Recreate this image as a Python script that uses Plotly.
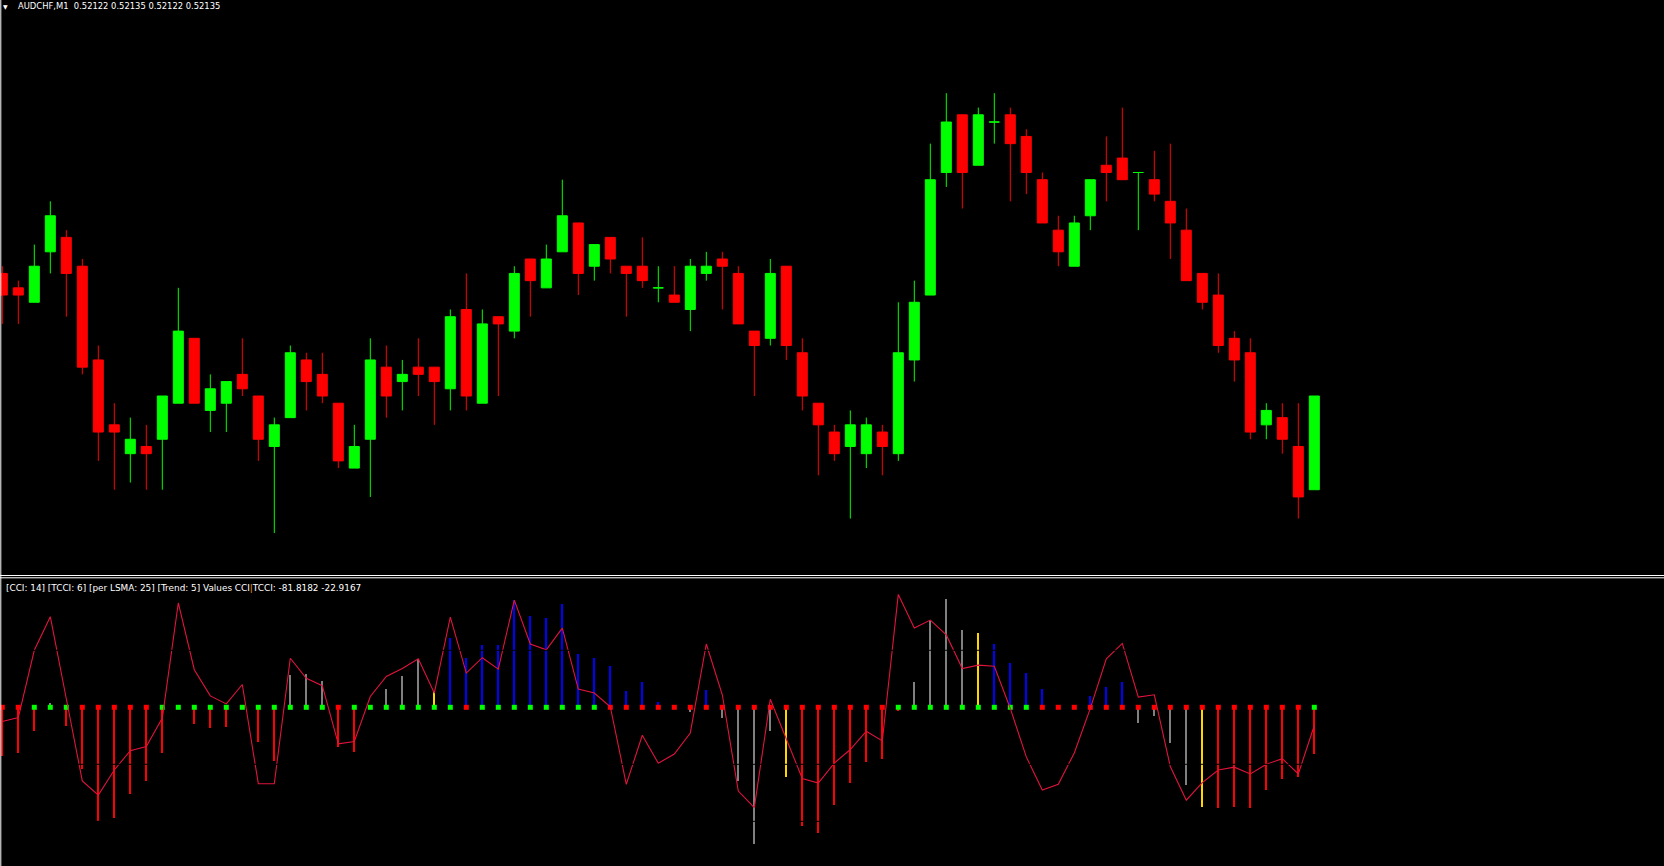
import plotly.graph_objects as go

# ---------------- data: AUDCHF M1 candles ----------------
open_ = [0.52152, 0.52150, 0.52148, 0.52155, 0.52157, 0.52153, 0.52140, 0.52131, 0.52127, 0.52128,
         0.52129, 0.52134, 0.52143, 0.52133, 0.52134, 0.52138, 0.52135, 0.52128, 0.52132, 0.52140,
         0.52138, 0.52134, 0.52125, 0.52129, 0.52139, 0.52137, 0.52139, 0.52139, 0.52136, 0.52147,
         0.52134, 0.52146, 0.52144, 0.52154, 0.52150, 0.52155, 0.52159, 0.52153, 0.52157, 0.52153,
         0.52153, 0.52150, 0.52149, 0.52147, 0.52152, 0.52154, 0.52152, 0.52144, 0.52143, 0.52153,
         0.52141, 0.52134, 0.52130, 0.52128, 0.52127, 0.52130, 0.52127, 0.52140, 0.52149, 0.52166,
         0.52174, 0.52167, 0.52173, 0.52174, 0.52171, 0.52165, 0.52158, 0.52153, 0.52160, 0.52167,
         0.52168, 0.52166, 0.52165, 0.52162, 0.52158, 0.52152, 0.52149, 0.52143, 0.52141, 0.52131,
         0.52132, 0.52128, 0.52122]
high = [0.52153, 0.52151, 0.52156, 0.52162, 0.52158, 0.52154, 0.52142, 0.52134, 0.52132, 0.52131,
        0.52135, 0.52150, 0.52143, 0.52138, 0.52137, 0.52143, 0.52135, 0.52132, 0.52142, 0.52141,
        0.52141, 0.52134, 0.52131, 0.52143, 0.52142, 0.52140, 0.52143, 0.52139, 0.52147, 0.52152,
        0.52147, 0.52146, 0.52153, 0.52154, 0.52156, 0.52165, 0.52159, 0.52156, 0.52157, 0.52153,
        0.52157, 0.52153, 0.52153, 0.52154, 0.52155, 0.52155, 0.52153, 0.52144, 0.52154, 0.52153,
        0.52143, 0.52134, 0.52131, 0.52133, 0.52132, 0.52131, 0.52148, 0.52151, 0.52170, 0.52177,
        0.52174, 0.52175, 0.52177, 0.52175, 0.52172, 0.52166, 0.52160, 0.52160, 0.52165, 0.52171,
        0.52175, 0.52166, 0.52169, 0.52170, 0.52161, 0.52152, 0.52152, 0.52144, 0.52143, 0.52134,
        0.52134, 0.52134, 0.52135]
low = [0.52145, 0.52145, 0.52148, 0.52152, 0.52146, 0.52138, 0.52126, 0.52122, 0.52123, 0.52122,
       0.52122, 0.52134, 0.52134, 0.52130, 0.52130, 0.52135, 0.52126, 0.52116, 0.52132, 0.52133,
       0.52134, 0.52125, 0.52125, 0.52121, 0.52132, 0.52133, 0.52135, 0.52131, 0.52133, 0.52133,
       0.52134, 0.52135, 0.52143, 0.52146, 0.52150, 0.52155, 0.52149, 0.52151, 0.52152, 0.52146,
       0.52150, 0.52148, 0.52148, 0.52144, 0.52151, 0.52147, 0.52145, 0.52135, 0.52142, 0.52140,
       0.52133, 0.52124, 0.52126, 0.52118, 0.52125, 0.52124, 0.52126, 0.52137, 0.52149, 0.52164,
       0.52161, 0.52167, 0.52170, 0.52162, 0.52163, 0.52159, 0.52153, 0.52153, 0.52158, 0.52162,
       0.52165, 0.52158, 0.52162, 0.52154, 0.52151, 0.52147, 0.52141, 0.52137, 0.52129, 0.52129,
       0.52127, 0.52118, 0.52122]
close = [0.52149, 0.52149, 0.52153, 0.52160, 0.52152, 0.52139, 0.52130, 0.52130, 0.52129, 0.52127,
         0.52135, 0.52144, 0.52134, 0.52136, 0.52137, 0.52136, 0.52129, 0.52131, 0.52141, 0.52137,
         0.52135, 0.52126, 0.52128, 0.52140, 0.52135, 0.52138, 0.52138, 0.52137, 0.52146, 0.52135,
         0.52145, 0.52145, 0.52152, 0.52151, 0.52154, 0.52160, 0.52152, 0.52156, 0.52154, 0.52152,
         0.52151, 0.52150, 0.52148, 0.52153, 0.52153, 0.52153, 0.52145, 0.52142, 0.52152, 0.52142,
         0.52135, 0.52131, 0.52127, 0.52131, 0.52131, 0.52128, 0.52141, 0.52148, 0.52165, 0.52173,
         0.52166, 0.52174, 0.52173, 0.52170, 0.52166, 0.52159, 0.52155, 0.52159, 0.52165, 0.52166,
         0.52165, 0.52166, 0.52163, 0.52159, 0.52151, 0.52148, 0.52142, 0.52140, 0.52130, 0.52133,
         0.52129, 0.52121, 0.52135]
bars = list(range(len(open_)))

# ---------------- data: CCI / TCCI indicator ----------------
trend = [-1, -1, 1, 1, 1, -1, -1, -1, -1, -1,
         1, 1, 1, 1, 1, 1, 1, 1, 1, 1,
         1, -1, 1, 1, 1, 1, 1, 1, 1, -1,
         1, 1, 1, 1, 1, 1, 1, 1, -1, -1,
         -1, -1, -1, -1, -1, -1, -1, -1, -1, -1,
         -1, -1, -1, -1, -1, -1, 1, 1, 1, 1,
         1, 1, 1, 1, 1, -1, -1, -1, -1, -1,
         -1, -1, -1, -1, -1, -1, -1, -1, -1, -1,
         -1, -1, 1]
cci_hist = [-85, -80, -41, 7, -32, -108, -199, -195, -152, -129,
            -81, 0, -29, -37, -34, 0, -60, -94, 57, 58,
            46, -69, -79, 0, 32, 55, 85, 27, 121, 87,
            109, 109, 188, 160, 157, 182, 94, 86, 72, 29,
            44, 9, 0, -8, 30, -18, -130, -240, -41, -122,
            -209, -220, -172, -133, -96, -91, -7, 44, 152, 190,
            136, 131, 111, 77, 60, 32, 0, 0, 20, 36,
            44, -27, -15, -62, -136, -174, -176, -174, -176, -145,
            -125, -123, -81.8182]
# R = falling, S = flat/neutral, B = rising, Y = turn signal
hist_state = ("RRRSRRRRRR" "RRRRRRRRSS" "SRRRSSSYBB" "BBBBBBBBBB" "BBBSBSSSSY"
              "RRRRRRRSSS" "SYBBBBBBBB" "BSSSSYRRRR" "RRR")
tcci_line = [-25, -18, 100, 159, 15, -129, -154, -110, -76, -69,
             -19, 183, 66, 20, 6, 40, -134, -134, 86, 51,
             38, -64, -60, 19, 54, 68, 85, 25, 158, 60,
             87, 67, 188, 111, 101, 139, 32, 25, 1, -135,
             -49, -98, -82, -45, 111, 22, -147, -176, 14, -54,
             -125, -133, -98, -74, -42, -59, 198, 139, 153, 127,
             68, 74, 72, -2, -87, -145, -135, -80, -2, 85,
             112, 18, 22, -104, -163, -132, -110, -105, -117, -100,
             -90, -117, -32]
levels = [200, 100, -100, -200]

symbol = "AUDCHF,M1"
last_ohlc = ["0.52122", "0.52135", "0.52122", "0.52135"]
ind_params = "[CCI: 14] [TCCI: 6] [per LSMA: 25] [Trend: 5] Values CCI"
ind_values = "TCCI: -81.8182 -22.9167"

# ---------------- styling ----------------
W, H = 1664, 866
BG = "#000000"
UP = "#00FF00"
DN = "#FF0000"
state_color = {"R": "#FF0000", "S": "#808080", "B": "#0000FF", "Y": "#FFD700"}
FONT = "DejaVu Sans"

fig = go.Figure()

green_idx = [i for i in bars if close[i] >= open_[i]]
red_idx = [i for i in bars if close[i] < open_[i]]
for idx, col in ((green_idx, UP), (red_idx, DN)):
    fig.add_trace(go.Candlestick(
        x=idx,
        open=[open_[i] for i in idx], high=[high[i] for i in idx],
        low=[low[i] for i in idx], close=[close[i] for i in idx],
        increasing=dict(line=dict(color=col, width=1), fillcolor=col),
        decreasing=dict(line=dict(color=col, width=1), fillcolor=col),
        whiskerwidth=0, xaxis="x", yaxis="y", hoverinfo="skip", showlegend=False))

fig.add_trace(go.Bar(
    x=bars, y=cci_hist, width=0.13,
    marker=dict(color=[state_color[s] for s in hist_state], line=dict(width=0)),
    xaxis="x", yaxis="y2", hoverinfo="skip", showlegend=False))

fig.add_trace(go.Scatter(
    x=bars, y=[0] * len(bars), mode="markers",
    marker=dict(symbol="square", size=5, color=[UP if t > 0 else DN for t in trend], line=dict(width=0)),
    xaxis="x", yaxis="y2", hoverinfo="skip", showlegend=False))

fig.add_trace(go.Scatter(
    x=bars, y=tcci_line, mode="lines", line=dict(color="#E0143C", width=1.1),
    xaxis="x", yaxis="y2", hoverinfo="skip", showlegend=False))

# pixel geometry of the terminal window
px_per_bar = 16.0
first_bar_px = 2.3
main_bottom_px = 575
sub_top_px = 579
price_ref, price_ref_px, px_per_point = 0.52135, 396.0, 7.21
zero_px, units_per_px = 707.3, 1.754

y_top = price_ref + price_ref_px / px_per_point * 1e-5
y_bot = price_ref - (main_bottom_px - price_ref_px) / px_per_point * 1e-5
s_top = (zero_px - sub_top_px) * units_per_px
s_bot = (zero_px - H) * units_per_px

fig.update_layout(
    width=W, height=H,
    margin=dict(l=0, r=0, t=0, b=0, pad=0),
    paper_bgcolor=BG, plot_bgcolor=BG,
    showlegend=False,
    boxgap=0.375, boxgroupgap=0, bargap=0,
    xaxis=dict(range=[-first_bar_px / px_per_bar, (W - first_bar_px) / px_per_bar],
               visible=False, showgrid=False, zeroline=False,
               rangeslider=dict(visible=False), anchor="y"),
    yaxis=dict(domain=[1 - main_bottom_px / H, 1], range=[y_bot, y_top],
               visible=False, showgrid=False, zeroline=False),
    yaxis2=dict(domain=[0, (H - sub_top_px) / H], range=[s_bot, s_top],
                visible=False, showgrid=False, zeroline=False, anchor="x"),
)

shapes = []
for lv in levels:
    shapes.append(dict(type="line", xref="paper", x0=0, x1=1, yref="y2", y0=lv, y1=lv,
                       line=dict(color="#000000", width=1), layer="above"))
for ypx in (575.5, 577.8):
    shapes.append(dict(type="line", xref="paper", x0=0, x1=1, yref="paper",
                       y0=1 - ypx / H, y1=1 - ypx / H, line=dict(color="#FFFFFF", width=1)))
shapes.append(dict(type="line", xref="paper", x0=0.8 / W, x1=0.8 / W, yref="paper", y0=0, y1=1,
                   line=dict(color="#FFFFFF", width=1)))
fig.update_layout(shapes=shapes)

annotations = [
    dict(text="\u25BC", x=5.5 / W, y=1 - 6 / H, xref="paper", yref="paper",
         xanchor="center", yanchor="middle", showarrow=False,
         font=dict(family=FONT, size=6, color="#FFFFFF")),
    dict(text=symbol + "\u00A0\u00A0" + " ".join(last_ohlc), x=16 / W, y=1 - 6.3 / H,
         xref="paper", yref="paper", xanchor="left", yanchor="middle", showarrow=False,
         font=dict(family=FONT, size=8.4, color="#FFFFFF")),
    dict(text=ind_params + "<span style='color:#FF9900'>|</span>" + ind_values,
         x=4 / W, y=1 - 588 / H, xref="paper", yref="paper", xanchor="left", yanchor="middle",
         showarrow=False, font=dict(family=FONT, size=8.9, color="#FFFFFF")),
]
fig.update_layout(annotations=annotations)

fig.write_html("out.html", config={"displayModeBar": False},
               post_script="document.body.style.margin='0';document.body.style.overflow='hidden';")
